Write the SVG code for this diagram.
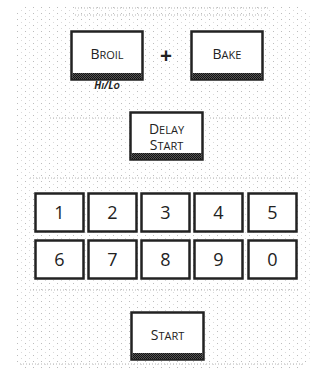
<svg xmlns="http://www.w3.org/2000/svg" width="323" height="375" viewBox="0 0 323 375">
<defs>
<pattern id="dots" width="8" height="6" patternUnits="userSpaceOnUse">
<rect x="1" y="1" width="1" height="1" fill="#bdbdbd"/>
<rect x="5" y="4" width="1" height="1" fill="#dadada"/>
</pattern>
<pattern id="hatch" width="2" height="2" patternUnits="userSpaceOnUse">
<rect width="2" height="2" fill="#555"/>
<rect width="1" height="1" fill="#111"/>
<rect x="1" y="1" width="1" height="1" fill="#111"/>
</pattern>
<style>
.btn{fill:#fff;stroke:#222;stroke-width:2.5}
.bar{fill:url(#hatch)}
.lbl{font-family:"Open Sans","Noto Sans",sans-serif;fill:#222;text-anchor:middle}
.cap{font-size:14px}
.sc{font-size:11px}
.dig{font-family:"Open Sans","Noto Sans",sans-serif;font-size:18px;fill:#222;text-anchor:middle}
.dl{fill:none;stroke:#b5b5b5;stroke-width:1;stroke-dasharray:1 2}
</style>
</defs>
<rect width="323" height="375" fill="#fff"/>
<g id="background">
<rect x="15" y="5" width="295" height="364" rx="14" fill="url(#dots)"/>
<path class="dl" d="M75 8 H270 M75 15 H270"/>
<path class="dl" d="M50 118 H125 M210 118 H290"/>
<path class="dl" d="M30 178 H300 M30 290 H300"/>
<path class="dl" d="M20 364 H305"/>
</g>
<g id="connectors"></g>
<g id="broil">
<rect class="btn" x="71.5" y="31.5" width="71" height="48"/>
<rect class="bar" x="72.5" y="73" width="69" height="6"/>
<text class="lbl" x="107" y="59"><tspan class="cap">B</tspan><tspan class="sc">ROIL</tspan></text>
<text class="lbl" x="107" y="89" font-style="italic" font-weight="bold"><tspan font-size="10">H</tspan><tspan font-size="8.5">I</tspan><tspan font-size="10">/L</tspan><tspan font-size="8.5">O</tspan></text>
</g>
<g id="plus">
<text class="lbl" x="166" y="63" font-size="21" font-weight="bold">+</text>
</g>
<g id="bake">
<rect class="btn" x="191.5" y="31.5" width="71" height="48"/>
<rect class="bar" x="192.5" y="73" width="69" height="6"/>
<text class="lbl" x="227" y="59"><tspan class="cap">B</tspan><tspan class="sc">AKE</tspan></text>
</g>
<g id="delay-start">
<rect class="btn" x="130.5" y="112.5" width="72" height="47"/>
<rect class="bar" x="131.5" y="153" width="70" height="6"/>
<text class="lbl" x="166.5" y="134"><tspan class="cap">D</tspan><tspan class="sc">ELAY</tspan></text>
<text class="lbl" x="166.5" y="150"><tspan class="cap">S</tspan><tspan class="sc">TART</tspan></text>
</g>
<g id="key1"><rect class="btn" x="35.5" y="193.5" width="48" height="38"/><text class="dig" x="59.5" y="218.5">1</text></g>
<g id="key2"><rect class="btn" x="88.5" y="193.5" width="48" height="38"/><text class="dig" x="112.5" y="218.5">2</text></g>
<g id="key3"><rect class="btn" x="141.5" y="193.5" width="48" height="38"/><text class="dig" x="165.5" y="218.5">3</text></g>
<g id="key4"><rect class="btn" x="194.5" y="193.5" width="48" height="38"/><text class="dig" x="218.5" y="218.5">4</text></g>
<g id="key5"><rect class="btn" x="248.5" y="193.5" width="48" height="38"/><text class="dig" x="272.5" y="218.5">5</text></g>
<g id="key6"><rect class="btn" x="35.5" y="240.5" width="48" height="38"/><text class="dig" x="59.5" y="265.5">6</text></g>
<g id="key7"><rect class="btn" x="88.5" y="240.5" width="48" height="38"/><text class="dig" x="112.5" y="265.5">7</text></g>
<g id="key8"><rect class="btn" x="141.5" y="240.5" width="48" height="38"/><text class="dig" x="165.5" y="265.5">8</text></g>
<g id="key9"><rect class="btn" x="194.5" y="240.5" width="48" height="38"/><text class="dig" x="218.5" y="265.5">9</text></g>
<g id="key0"><rect class="btn" x="248.5" y="240.5" width="48" height="38"/><text class="dig" x="272.5" y="265.5">0</text></g>
<g id="start">
<rect class="btn" x="131.5" y="312.5" width="72" height="47"/>
<rect class="bar" x="132.5" y="353" width="70" height="6"/>
<text class="lbl" x="167.5" y="340"><tspan class="cap">S</tspan><tspan class="sc">TART</tspan></text>
</g>
</svg>
